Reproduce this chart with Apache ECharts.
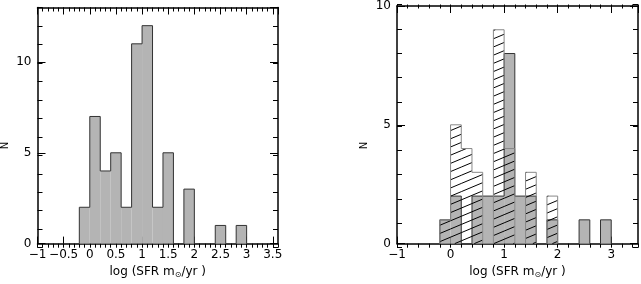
<!DOCTYPE html>
<html><head><meta charset="utf-8">
<script src="https://cdn.jsdelivr.net/npm/echarts@6/dist/echarts.min.js"></script>
<style>html,body{margin:0;padding:0;background:#fff}#c{width:641px;height:284px}</style>
</head><body><div id="c"></div>
<script>
// ---- data ----
const binStarts = [-0.2, 0, 0.2, 0.4, 0.6, 0.8, 1.0, 1.2, 1.4, 1.6, 1.8, 2.0, 2.2, 2.4, 2.6, 2.8];
const binWidth = 0.2;
const allCounts     = [2, 7, 4, 5, 2, 11, 12, 2, 5, 0, 3, 0, 0, 1, 0, 1];
const filledCounts  = [1, 2, 0, 2, 2, 2, 8, 2, 2, 0, 1, 0, 0, 1, 0, 1];
const hatchedCounts = [1, 5, 4, 3, 0, 9, 4, 0, 3, 0, 2, 0, 0, 0, 0, 0];
const leftXRange = [-1, 3.6], leftXMajor = 0.5, leftXMinor = 0.1;
const leftYRange = [0, 13], leftYMajor = 5, leftYMinor = 1;
const rightXRange = [-1, 3.5], rightXMajor = 1, rightXMinor = 0.2;
const rightYRange = [0, 10], rightYMajor = 5, rightYMinor = 1;
const xTitle = 'log (SFR m{sub|⊙}/yr )';
const yTitle = 'N';

// ---- helpers ----
const r = v => Math.round(v * 1e6) / 1e6;
function binData(counts) {
  return counts.map((c, i) => [binStarts[i], r(binStarts[i] + binWidth), c]);
}
function edgeData(counts) {
  const d = counts.map((c, i) => [binStarts[i], r(binStarts[i] + binWidth), c, i ? counts[i - 1] : 0]);
  const last = r(binStarts[binStarts.length - 1] + binWidth);
  d.push([last, last, 0, counts[counts.length - 1]]);
  return d;
}
function fillItem(fill) {
  return function (params, api) {
    const v = api.value(2);
    if (!v) return null;
    const a = api.coord([api.value(0), v]);
    const b = api.coord([api.value(1), 0]);
    return { type: 'rect', shape: { x: a[0], y: a[1], width: b[0] - a[0], height: b[1] - a[1] }, style: { fill: fill } };
  };
}
// hatch: parallel lines (rising to the right) clipped to each bin rectangle
const HATCH_SLOPE = 0.42, HATCH_GAP = 8.2;
function hatchItem(params, api) {
  const v = api.value(2);
  if (!v) return null;
  const a = api.coord([api.value(0), v]);
  const b = api.coord([api.value(1), 0]);
  const xa = a[0], xb = b[0], ya = a[1], yb = b[1];
  const s = HATCH_SLOPE;
  const kmin = Math.ceil((ya + s * xa) / HATCH_GAP), kmax = Math.floor((yb + s * xb) / HATCH_GAP);
  const ch = [];
  for (let k = kmin; k <= kmax; k++) {
    const c = k * HATCH_GAP;
    const lo = Math.max(xa, (c - yb) / s), hi = Math.min(xb, (c - ya) / s);
    if (hi - lo < 0.3) continue;
    ch.push({ type: 'line', shape: { x1: lo, y1: c - s * lo, x2: hi, y2: c - s * hi },
              style: { stroke: '#000', lineWidth: 1 } });
  }
  return { type: 'group', children: ch };
}
function outlineItem(color) {
  return function (params, api) {
    const x0 = api.value(0), x1 = api.value(1), v = api.value(2), p = api.value(3);
    const ch = [];
    if (v > 0) {
      const a = api.coord([x0, v]), b = api.coord([x1, v]);
      ch.push({ type: 'line', shape: { x1: a[0], y1: a[1], x2: b[0], y2: b[1] }, style: { stroke: color, lineWidth: 1 } });
    }
    if (v !== p) {
      const a = api.coord([x0, Math.min(v, p)]), b = api.coord([x0, Math.max(v, p)]);
      ch.push({ type: 'line', shape: { x1: a[0], y1: a[1], x2: b[0], y2: b[1] }, style: { stroke: color, lineWidth: 1 } });
    }
    return { type: 'group', children: ch };
  };
}
const font = 'DejaVu Sans';
const fmt = v => String(v).replace('-', '\u2212');
const lineStyle = { color: '#000', width: 1.5 };

function majorAxes(kind, grid, range, major, showMax) {
  const isX = kind === 'x';
  const pos = isX ? ['bottom', 'top'] : ['left', 'right'];
  return pos.map((p, j) => {
    const ax = {
      type: 'value', gridIndex: grid, position: p, min: range[0], max: range[1], interval: major,
      axisLine: { show: true, onZero: false, lineStyle: lineStyle },
      axisTick: { show: true, inside: true, length: isX ? 7 : 8, lineStyle: { color: '#000', width: 1 } },
      axisLabel: { show: j === 0, formatter: fmt, color: '#000', fontFamily: font, fontSize: 12,
                   margin: isX ? 5 : 6, showMaxLabel: showMax, showMinLabel: true },
      splitLine: { show: false }
    };
    if (j === 0 && isX) {
      Object.assign(ax, { name: xTitle, nameLocation: 'middle', nameGap: 8,
        nameTextStyle: { color: '#000', fontFamily: font, fontSize: 12,
          rich: { sub: { fontFamily: font, fontSize: 8, color: '#000', padding: [7, 0, 0, 0] } } } });
    }
    return ax;
  });
}
function minorAxes(kind, grid, range, minor) {
  const isX = kind === 'x';
  const pos = isX ? ['bottom', 'top'] : ['left', 'right'];
  return pos.map(p => ({
    type: 'value', gridIndex: grid, position: p, min: range[0], max: range[1], interval: minor,
    axisLine: { show: false, onZero: false },
    axisTick: { show: true, inside: true, length: isX ? 4 : 5, lineStyle: { color: '#000', width: 1 } },
    axisLabel: { show: false }, splitLine: { show: false }
  }));
}

const leftRect = { left: 37.5, top: 7.5, width: 240.5, height: 240.2 };
const rightRect = { left: 397, top: 4.5, width: 241, height: 243.2 };
const nameText = (x) => ({
  type: 'text', x: x, y: 145.5, rotation: Math.PI / 2,
  style: { text: yTitle, fill: '#000', font: '10px "DejaVu Sans"', align: 'center', verticalAlign: 'middle' }
});

const chart = echarts.init(document.getElementById('c'));
chart.setOption({
  animation: false,
  backgroundColor: '#fff',
  grid: [leftRect, rightRect, Object.assign({}, leftRect), Object.assign({}, rightRect)],
  xAxis: [].concat(
    majorAxes('x', 0, leftXRange, leftXMajor, false),
    majorAxes('x', 1, rightXRange, rightXMajor, false),
    minorAxes('x', 2, leftXRange, leftXMinor),
    minorAxes('x', 3, rightXRange, rightXMinor)
  ),
  yAxis: [].concat(
    majorAxes('y', 0, leftYRange, leftYMajor, false),
    majorAxes('y', 1, rightYRange, rightYMajor, true),
    minorAxes('y', 2, leftYRange, leftYMinor),
    minorAxes('y', 3, rightYRange, rightYMinor)
  ),
  graphic: [nameText(5), nameText(364)],
  series: [
    { type: 'custom', xAxisIndex: 0, yAxisIndex: 0, data: binData(allCounts), renderItem: fillItem('#b4b4b4'), encode: { x: [0, 1], y: 2 } },
    { type: 'custom', xAxisIndex: 0, yAxisIndex: 0, data: edgeData(allCounts), renderItem: outlineItem('#333'), encode: { x: [0, 1], y: 2 } },
    { type: 'custom', xAxisIndex: 2, yAxisIndex: 2, data: binData(filledCounts), renderItem: fillItem('#b4b4b4'), encode: { x: [0, 1], y: 2 } },
    { type: 'custom', xAxisIndex: 2, yAxisIndex: 2, data: edgeData(filledCounts), renderItem: outlineItem('#333'), encode: { x: [0, 1], y: 2 } },
    { type: 'custom', xAxisIndex: 2, yAxisIndex: 2, data: binData(hatchedCounts), renderItem: hatchItem, encode: { x: [0, 1], y: 2 } },
    { type: 'custom', xAxisIndex: 2, yAxisIndex: 2, data: edgeData(hatchedCounts), renderItem: outlineItem('#888'), encode: { x: [0, 1], y: 2 } }
  ]
});
</script></body></html>
